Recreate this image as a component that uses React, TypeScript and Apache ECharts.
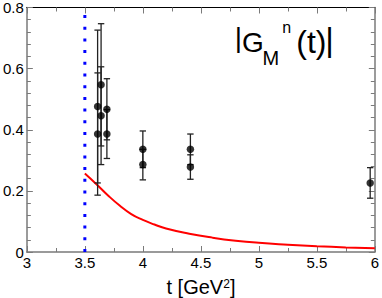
import React, { useEffect, useRef } from "react";
import * as echarts from "echarts";

// Measured points |G_M^n(t)| with symmetric errors
const tVals = [3.61, 3.61, 3.64, 3.64, 3.69, 3.69, 4.0, 4.0, 4.41, 4.41, 5.96];
const gVals = [0.476, 0.386, 0.547, 0.446, 0.467, 0.386, 0.336, 0.286, 0.336, 0.278, 0.226];
const gErr = [0.25, 0.2, 0.2, 0.16, 0.1, 0.08, 0.06, 0.05, 0.05, 0.04, 0.05];

// Red curve
const curveT = [3.5, 3.6, 3.7, 3.8, 3.9, 4.0, 4.1, 4.2, 4.4, 4.6, 4.8, 5.0, 5.25, 5.5, 5.75, 6.0];
const curveG = [0.257, 0.222, 0.185, 0.152, 0.124, 0.105, 0.09, 0.077, 0.06, 0.047, 0.037, 0.03, 0.024, 0.019, 0.015, 0.012];

// Threshold line
const thresholdT = 3.5;

const xTicks = { min: 3, max: 6, interval: 0.5 };
const yTicks = { min: 0, max: 0.8, interval: 0.2 };

const FONT = "'Liberation Sans', Arial, Helvetica, sans-serif";

export default function App() {
  const ref = useRef<HTMLDivElement>(null);
  useEffect(() => {
    document.body.style.margin = "0";
    if (!ref.current) return;
    const chart = echarts.init(ref.current, null, { renderer: "svg" });
    const gray = "#7a7a7a";
    const pts = tVals.map((t, i) => [t, gVals[i], gErr[i]]);
    const curve = curveT.map((t, i) => [t, curveG[i]]);

    const mkTextMid = (text: string, x: number, baseline: number, fs: number) => ({
      type: "text",
      x,
      y: baseline - 0.347 * fs,
      style: {
        text,
        fill: "#000",
        font: `${fs}px ${FONT}`,
        textAlign: "left",
        textVerticalAlign: "middle",
      },
      z: 100,
    });

    chart.setOption({
      animation: false,
      grid: { left: 24, right: 5, top: 5, bottom: 46, containLabel: false },
      xAxis: [
        {
          type: "value",
          min: xTicks.min,
          max: xTicks.max,
          interval: xTicks.interval,
          position: "bottom",
          axisLine: { show: true, onZero: false, lineStyle: { color: gray, width: 1.5 } },
          axisTick: { show: true, inside: true, length: 6, lineStyle: { color: gray } },
          minorTick: { show: true, splitNumber: 2, length: 4, lineStyle: { color: gray } },
          axisLabel: { color: "#000", fontSize: 15, fontFamily: FONT, margin: 3 },
          splitLine: { show: false },
        },
        {
          type: "value",
          min: xTicks.min,
          max: xTicks.max,
          interval: xTicks.interval,
          position: "top",
          axisLine: { show: true, onZero: false, lineStyle: { color: "#000", width: 1.2 } },
          axisTick: { show: true, inside: true, length: 6, lineStyle: { color: gray } },
          minorTick: { show: true, splitNumber: 2, length: 4, lineStyle: { color: gray } },
          axisLabel: { show: false },
          splitLine: { show: false },
        },
      ],
      yAxis: [
        {
          type: "value",
          min: yTicks.min,
          max: yTicks.max,
          interval: yTicks.interval,
          position: "left",
          axisLine: { show: true, onZero: false, lineStyle: { color: gray, width: 1.5 } },
          axisTick: { show: true, inside: true, length: 6, lineStyle: { color: gray } },
          minorTick: { show: true, splitNumber: 5, length: 4, lineStyle: { color: gray } },
          axisLabel: { color: "#000", fontSize: 15, fontFamily: FONT, margin: 3 },
          splitLine: { show: false },
        },
        {
          type: "value",
          min: yTicks.min,
          max: yTicks.max,
          interval: yTicks.interval,
          position: "right",
          axisLine: { show: true, onZero: false, lineStyle: { color: gray, width: 1.5 } },
          axisTick: { show: true, inside: true, length: 6, lineStyle: { color: gray } },
          minorTick: { show: true, splitNumber: 5, length: 4, lineStyle: { color: gray } },
          axisLabel: { show: false },
          splitLine: { show: false },
        },
      ],
      series: [
        {
          type: "line",
          data: [
            [thresholdT, yTicks.min],
            [thresholdT, yTicks.max],
          ],
          symbol: "none",
          lineStyle: { color: "#0000ff", width: 3, type: [3, 8.7], cap: "butt" },
          z: 1,
        },
        {
          type: "line",
          data: curve,
          smooth: true,
          symbol: "none",
          lineStyle: { color: "#ff0000", width: 2 },
          z: 2,
        },
        {
          type: "custom",
          data: pts,
          encode: { x: 0, y: 1 },
          renderItem: (params: any, api: any) => {
            const x = api.value(0);
            const y = api.value(1);
            const e = api.value(2);
            const top = api.coord([x, y + e]);
            const bot = api.coord([x, y - e]);
            const hw = 3.2;
            const st = { stroke: "#222", lineWidth: 1.3 };
            return {
              type: "group",
              children: [
                { type: "line", shape: { x1: top[0], y1: top[1], x2: bot[0], y2: bot[1] }, style: st },
                { type: "line", shape: { x1: top[0] - hw, y1: top[1], x2: top[0] + hw, y2: top[1] }, style: st },
                { type: "line", shape: { x1: bot[0] - hw, y1: bot[1], x2: bot[0] + hw, y2: bot[1] }, style: st },
              ],
            };
          },
          z: 3,
        },
        {
          type: "scatter",
          data: pts.map((p) => [p[0], p[1]]),
          symbol: "circle",
          symbolSize: 7.5,
          itemStyle: { color: "#000" },
          z: 4,
        },
      ],
      graphic: [
        mkTextMid("|", 234.8, 47.4, 28),
        mkTextMid("G", 242, 52.7, 28),
        mkTextMid("M", 262.5, 65, 20),
        mkTextMid("n", 282.3, 33.3, 16),
        mkTextMid("(t)", 296.3, 53.3, 32),
        mkTextMid("|", 325.3, 51.3, 33),
        mkTextMid("t [GeV", 166.5, 294, 20),
        mkTextMid("2", 223.2, 288.6, 12),
        mkTextMid("]", 229.9, 294, 20),
      ],
    });
    return () => chart.dispose();
  }, []);
  return <div ref={ref} style={{ width: 382, height: 298 }} />;
}
